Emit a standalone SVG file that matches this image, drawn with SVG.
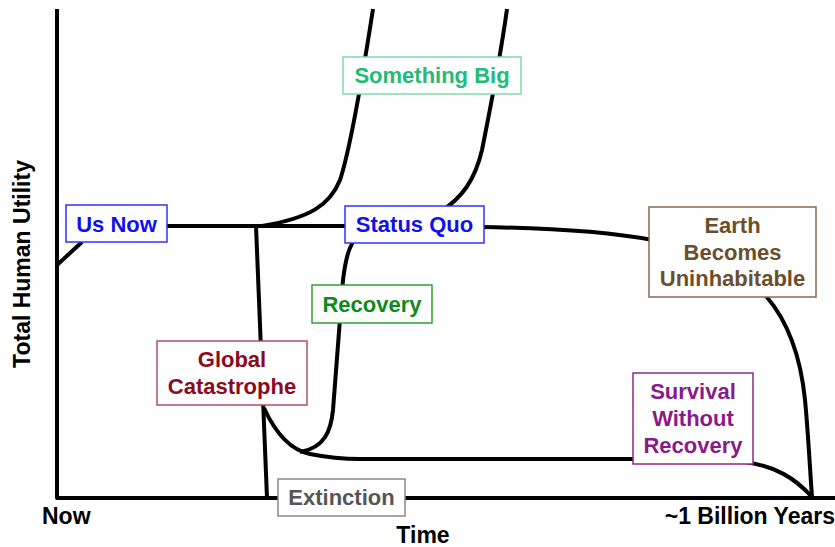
<svg xmlns="http://www.w3.org/2000/svg" width="835" height="547" viewBox="0 0 835 547">
<style>
.ln{fill:none;stroke:#000;stroke-width:4;stroke-linecap:butt;stroke-linejoin:round}
.bx{fill:#fff;stroke-width:1.5}
.t{font-family:"Liberation Sans",Arial,sans-serif;font-weight:bold;font-size:22px;text-anchor:middle}
.ax{font-family:"Liberation Sans",Arial,sans-serif;font-weight:bold;font-size:23px;fill:#000}
</style>
<rect width="835" height="547" fill="#fff"/>
<g id="connectors">
<path class="ln" d="M57,9 L57,498 L835,498"/>
<path class="ln" d="M57,265 L82,242"/>
<path class="ln" d="M160,226 L345,226"/>
<path class="ln" d="M262,226 C310,218 330,205 340,180 C350,150 362,80 373,9"/>
<path class="ln" d="M256,226 L267,498"/>
<path class="ln" d="M264,408 C275,432 290,450 310,454 C325,457 340,459 360,459 L700,459 L745,462 C775,466 795,478 812,497"/>
<path class="ln" d="M300,452 C325,448 331,430 333,410 L343,280 C346,255 350,240 365,228 L440,212 C462,198 475,180 482,150 C490,110 500,60 507,9"/>
<path class="ln" d="M480,227 C550,228 610,232 652,240"/>
<path class="ln" d="M766,296 C785,318 800,350 805,400 C808,430 810,470 812,497"/>
</g>
<g id="us-now">
<rect class="bx" x="66" y="205" width="101" height="37" stroke="#3030ff"/>
<text class="t" x="116.5" y="232" fill="#1010ee">Us Now</text>
</g>
<g id="status-quo">
<rect class="bx" x="345" y="206" width="139" height="37" stroke="#3030ff"/>
<text class="t" x="414.5" y="232" fill="#1010ee">Status Quo</text>
</g>
<g id="something-big">
<rect class="bx" x="343" y="57" width="178" height="37" stroke="#80dcae"/>
<text class="t" x="432" y="83" fill="#22bb77">Something Big</text>
</g>
<g id="recovery">
<rect class="bx" x="312" y="285" width="120" height="38" stroke="#30a030"/>
<text class="t" x="372" y="312" fill="#0f8a1a">Recovery</text>
</g>
<g id="global-catastrophe">
<rect class="bx" x="157" y="341" width="150" height="64" stroke="#b05060"/>
<text class="t" x="232" y="367" fill="#8b0a1e">Global</text>
<text class="t" x="232" y="394" fill="#8b0a1e">Catastrophe</text>
</g>
<g id="extinction">
<rect class="bx" x="278" y="479" width="127" height="37" stroke="#888"/>
<text class="t" x="341.5" y="505" fill="#555">Extinction</text>
</g>
<g id="earth-uninhabitable">
<rect class="bx" x="649" y="207" width="167" height="90" stroke="#8b6a4a"/>
<text class="t" x="732.5" y="233" fill="#6b4f2a">Earth</text>
<text class="t" x="732.5" y="260" fill="#6b4f2a">Becomes</text>
<text class="t" x="732.5" y="286" fill="#6b4f2a">Uninhabitable</text>
</g>
<g id="survival">
<rect class="bx" x="633" y="373" width="120" height="91" stroke="#8a2a8a"/>
<text class="t" x="693" y="399" fill="#8a1a8a">Survival</text>
<text class="t" x="693" y="426" fill="#8a1a8a">Without</text>
<text class="t" x="693" y="453" fill="#8a1a8a">Recovery</text>
</g>
<g id="axis-labels">
<text class="ax" x="42" y="524">Now</text>
<text class="ax" x="835" y="524" text-anchor="end">~1 Billion Years</text>
<text class="ax" x="423" y="543" text-anchor="middle">Time</text>
<text class="ax" transform="translate(30,264) rotate(-90)" text-anchor="middle">Total Human Utility</text>
</g>
</svg>
